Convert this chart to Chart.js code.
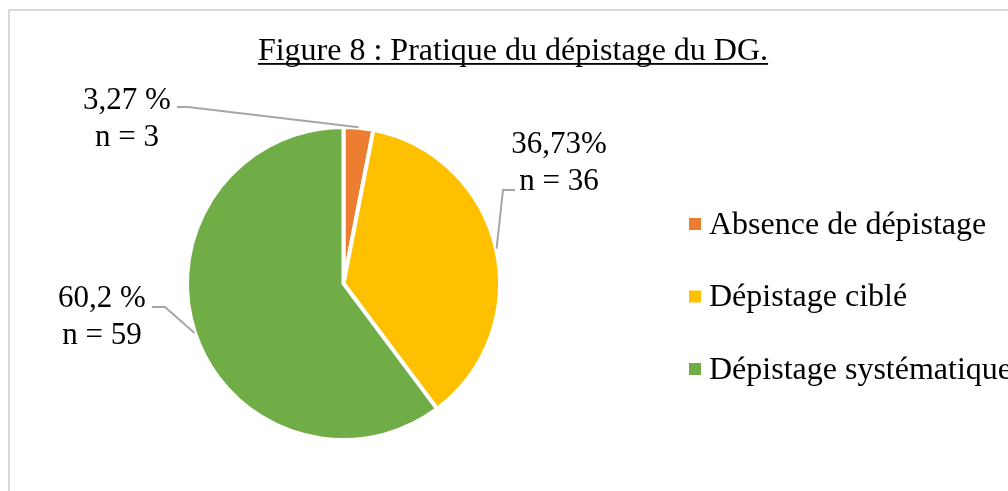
<!DOCTYPE html>
<html lang="fr">
<head>
    <meta charset="UTF-8">
    <title>Pratique du dépistage du DG</title>
    <script src="https://cdn.jsdelivr.net/npm/chart.js"></script>
    <style>
        body { margin: 0; background: #fff; }
        .wrap { width: 1008px; height: 491px; position: relative; }
    </style>
</head>
<body>
    <div class="wrap">
        <canvas id="pieChart"></canvas>
    </div>
    <script>
// Données
const categories = ['Absence de dépistage', 'Dépistage ciblé', 'Dépistage systématique'];
const counts = [3, 36, 59];
const pctLabels = ['3,27 %', '36,73%', '60,2 %'];
const colors = ['#ED7D31', '#FFC000', '#70AD47'];
const chartTitle = 'Figure 8 : Pratique du dépistage du DG.';

// Position des étiquettes (texte + départ du trait de rappel)
const labelLayout = [
    { x: 127, y: 109, path: [[177, 107], [188, 107]] },
    { x: 559, y: 153, path: [[515, 190], [503, 190]] },
    { x: 102, y: 307, path: [[152, 307], [165, 307]] }
];

const serif = '"Liberation Serif", "Times New Roman", serif';

const decorPlugin = {
    id: 'decor',
    beforeDraw(chart) {
        const ctx = chart.ctx;
        ctx.save();
        ctx.fillStyle = '#fff';
        ctx.fillRect(0, 0, chart.width, chart.height);
        // cadre gris
        ctx.strokeStyle = '#d9d9d9';
        ctx.lineWidth = 2;
        ctx.strokeRect(9, 10, 1010, 500);
        // titre souligné
        ctx.font = '32px ' + serif;
        ctx.fillStyle = '#000';
        ctx.textAlign = 'center';
        ctx.textBaseline = 'alphabetic';
        ctx.fillText(chartTitle, 513, 60);
        const w = ctx.measureText(chartTitle).width;
        ctx.fillRect(513 - w / 2, 63, w, 1.8);
        ctx.restore();
    },
    afterDatasetsDraw(chart) {
        const ctx = chart.ctx;
        const arcs = chart.getDatasetMeta(0).data;
        ctx.save();
        // étiquettes + traits de rappel
        arcs.forEach((arc, i) => {
            const p = arc.getProps(['x', 'y', 'startAngle', 'endAngle', 'outerRadius'], true);
            const mid = (p.startAngle + p.endAngle) / 2;
            const ex = p.x + Math.cos(mid) * (p.outerRadius + 0.5);
            const ey = p.y + Math.sin(mid) * (p.outerRadius + 0.5);
            const lay = labelLayout[i];
            ctx.strokeStyle = '#a6a6a6';
            ctx.lineWidth = 2;
            ctx.beginPath();
            ctx.moveTo(lay.path[0][0], lay.path[0][1]);
            for (let k = 1; k < lay.path.length; k++) ctx.lineTo(lay.path[k][0], lay.path[k][1]);
            ctx.lineTo(ex, ey);
            ctx.stroke();

            ctx.font = '31px ' + serif;
            ctx.fillStyle = '#000';
            ctx.textAlign = 'center';
            ctx.fillText(pctLabels[i], lay.x, lay.y);
            ctx.fillText('n = ' + counts[i], lay.x, lay.y + 37);
        });
        // légende
        ctx.font = '32px ' + serif;
        ctx.textAlign = 'left';
        categories.forEach((cat, i) => {
            const cy = 224 + i * 72.5;
            ctx.fillStyle = colors[i];
            ctx.fillRect(689, cy - 6, 12, 12);
            ctx.fillStyle = '#000';
            ctx.fillText(cat, 709, cy + 9.5);
        });
        ctx.restore();
    }
};

new Chart(document.getElementById('pieChart'), {
    type: 'pie',
    data: {
        labels: categories,
        datasets: [{
            data: counts,
            backgroundColor: colors,
            borderColor: '#fff',
            borderWidth: 4
        }]
    },
    options: {
        responsive: true,
        maintainAspectRatio: false,
        animation: false,
        radius: 156.5,
        layout: { padding: { left: 150, right: 471, top: 100, bottom: 24 } },
        plugins: {
            legend: { display: false },
            title: { display: false },
            tooltip: { enabled: false }
        }
    },
    plugins: [decorPlugin]
});
    </script>
</body>
</html>
